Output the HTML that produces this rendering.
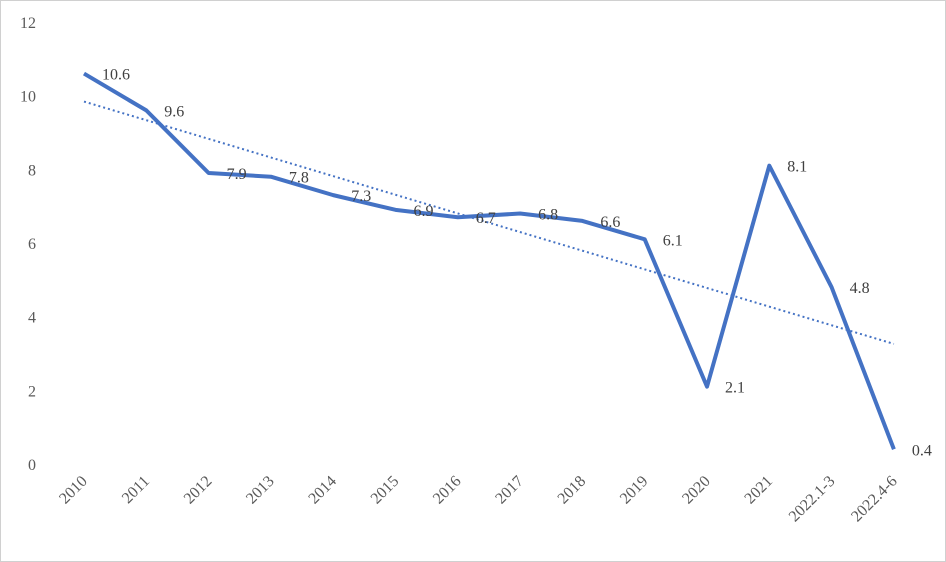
<!DOCTYPE html>
<html><head><meta charset="utf-8"><style>
body{margin:0;background:#fff}
svg{display:block;font-family:"Liberation Serif","Noto Serif CJK SC",serif}
</style></head><body>
<svg width="946" height="562">
<rect x="0.5" y="0.5" width="945" height="561" fill="#fff" stroke="#d0d0d0"/>
<g id="g"></g>
</svg>
<script>
const categories=["2010","2011","2012","2013","2014","2015","2016","2017","2018","2019","2020","2021","2022.1-3","2022.4-6"];
const values=[10.6,9.6,7.9,7.8,7.3,6.9,6.7,6.8,6.6,6.1,2.1,8.1,4.8,0.4];
const yTicks=[0,2,4,6,8,10,12];
const NS="http://www.w3.org/2000/svg";
const g=document.getElementById("g");
const x=i=>84+i*62.3;
const y=v=>464-v*(464-22)/12;
function mk(t,a,txt){const e=document.createElementNS(NS,t);for(const k in a)e.setAttribute(k,a[k]);if(txt!=null)e.textContent=txt;g.appendChild(e);return e;}
yTicks.forEach(t=>{
 const e=mk("text",{x:36,y:y(t)+6,"text-anchor":"end","font-size":16,fill:"#595959"},t);
 
 
});
categories.forEach((c,i)=>{
 const e=mk("text",{x:x(i)+4,y:482,"text-anchor":"end","font-size":16,fill:"#595959",transform:`rotate(-45 ${x(i)+4} 482)`},c);
 
 
});
const n=values.length;let sx=0,sy=0,sxy=0,sxx=0;
values.forEach((v,i)=>{sx+=i;sy+=v;sxy+=i*v;sxx+=i*i;});
const b=(n*sxy-sx*sy)/(n*sxx-sx*sx),a=(sy-b*sx)/n;
const tr=mk("line",{x1:x(0),y1:y(a),x2:x(n-1),y2:y(a+b*(n-1)),stroke:"#4472c4","stroke-width":2,"stroke-dasharray":"2 3"});


const p=mk("polyline",{points:values.map((v,i)=>x(i)+","+y(v)).join(" "),fill:"none",stroke:"#4472c4","stroke-width":4,"stroke-linejoin":"round"});


values.forEach((v,i)=>{
 const e=mk("text",{x:x(i)+18,y:y(v)+6,"font-size":16,fill:"#404040"},v.toFixed(1));
 
 
});
</script>
</body></html>
